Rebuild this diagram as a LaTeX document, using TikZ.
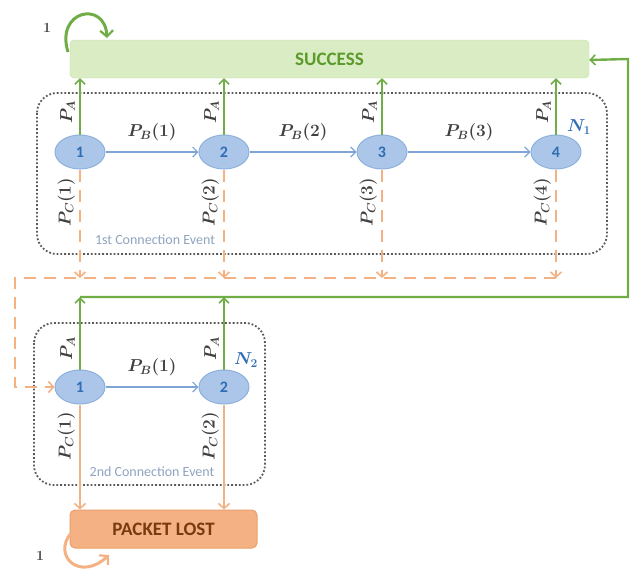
\documentclass[tikz,border=0pt]{standalone}
\usepackage{fontspec}
\setsansfont{Carlito}
\usetikzlibrary{shapes.geometric,arrows.meta}

\definecolor{okgreen}{HTML}{70AD47}
\definecolor{okfill}{HTML}{D9ECC3}
\definecolor{okedge}{HTML}{C6E0A8}
\definecolor{oktext}{HTML}{5C9A2C}
\definecolor{lostfill}{HTML}{F4B183}
\definecolor{lostedge}{HTML}{E9A069}
\definecolor{losttext}{HTML}{7A3A10}
\definecolor{orline}{HTML}{F4B183}
\definecolor{stfill}{HTML}{ABC6E8}
\definecolor{stedge}{HTML}{8DB0DC}
\definecolor{sttext}{HTML}{2F6DB4}
\definecolor{blline}{HTML}{7EA5D5}
\definecolor{dotgrey}{HTML}{5A5A5A}
\definecolor{labgrey}{HTML}{404040}
\definecolor{evtext}{HTML}{8FA3BF}

\begin{document}
\begin{tikzpicture}[x=1pt,y=-1pt,
  stnode/.style={ellipse, draw=stedge, fill=stfill, line width=1pt,
    minimum width=50pt, minimum height=34pt, inner sep=0pt,
    text=sttext, font=\fontsize{16}{18}\sffamily\bfseries},
  okbox/.style={rectangle, rounded corners=4pt, draw=okedge, fill=okfill,
    minimum width=519pt, minimum height=38pt,
    text=oktext, font=\fontsize{19}{22}\sffamily\bfseries},
  lostbox/.style={rectangle, rounded corners=5pt, draw=lostedge, fill=lostfill,
    line width=1pt, minimum width=187pt, minimum height=38pt,
    text=losttext, font=\fontsize{19}{22}\sffamily\bfseries},
  evbox/.style={draw=dotgrey, line width=1.8pt, dotted, rounded corners=20pt},
  evlabel/.style={text=evtext, font=\fontsize{14}{16}\sffamily},
  lab/.style={text=labgrey, font=\fontsize{17}{20}\selectfont\boldmath},
  nlab/.style={text=sttext, font=\fontsize{17}{20}\selectfont\boldmath},
  onelab/.style={text=labgrey, font=\fontsize{14}{16}\selectfont\bfseries},
  tip/.style={-{Straight Barb[length=5pt,width=10pt,line width=1.6pt]}},
  pagreen/.style={draw=okgreen, line width=2.4pt, tip},
  pbblue/.style={draw=blline, line width=1.2pt,
    -{Straight Barb[length=5pt,width=10pt,line width=1.2pt]}},
  pcdash/.style={draw=orline, line width=2pt, dash pattern=on 12pt off 8pt,
    -{Straight Barb[length=5pt,width=11pt,line width=1.6pt]}},
  pcsolid/.style={draw=orline, line width=2pt,
    -{Straight Barb[length=5pt,width=11pt,line width=1.6pt]}},
  rotlab/.style={lab, rotate=90, anchor=south, inner sep=4pt}
]
\useasboundingbox (0,0) rectangle (634,568);

% outcome boxes
\node[okbox] (succ) at (329.5,59) {SUCCESS};
\node[lostbox] (lost) at (163.5,529) {PACKET LOST};

% connection event frames
\draw[evbox] (37,93) rectangle (607,254);
\draw[evbox] (34,323) rectangle (265,485);
\node[evlabel] at (155,240) {1st Connection Event};
\node[evlabel] at (152,472) {2nd Connection Event};

% states of the first connection event
\node[stnode] (a1) at (80,152) {1};
\node[stnode] (a2) at (224,152) {2};
\node[stnode] (a3) at (382,152) {3};
\node[stnode] (a4) at (556,152) {4};
\node[nlab] at (579,127) {$N_1$};

% states of the second connection event
\node[stnode] (b1) at (80,387) {1};
\node[stnode] (b2) at (224,387) {2};
\node[nlab] at (246,360) {$N_2$};

% transitions to SUCCESS
\foreach \s in {a1,a2,a3,a4}
  \draw[pagreen] (\s.north) -- node[rotlab, pos=0.4] {$P_A$} (\s.north |- succ.south);

% transitions between states
\draw[pbblue] (a1) -- node[lab, above=7pt] {$P_B(1)$} (a2);
\draw[pbblue] (a2) -- node[lab, above=7pt] {$P_B(2)$} (a3);
\draw[pbblue] (a3) -- node[lab, above=7pt] {$P_B(3)$} (a4);
\draw[pbblue] (b1) -- node[lab, above=7pt] {$P_B(1)$} (b2);

% failures of the first event lead into the second event
\coordinate (dl) at (15,278);
\coordinate (gr) at (628,297);
\draw[pcdash] (a1.south) -- node[rotlab, pos=0.3] {$P_C(1)$} (a1.south |- dl);
\draw[pcdash] (a2.south) -- node[rotlab, pos=0.3] {$P_C(2)$} (a2.south |- dl);
\draw[pcdash] (a3.south) -- node[rotlab, pos=0.3] {$P_C(3)$} (a3.south |- dl);
\draw[pcdash] (a4.south) -- node[rotlab, pos=0.3] {$P_C(4)$} (a4.south |- dl);
\draw[pcdash] (a4.south |- dl) -- (dl) -- (dl |- b1) -- (b1.west);

% successes of the second event
\draw[pagreen] (b1.north) -- node[rotlab, pos=0.29] {$P_A$} (b1.north |- gr);
\draw[pagreen] (b2.north) -- node[rotlab, pos=0.29] {$P_A$} (b2.north |- gr);
\draw[pagreen] (b1.north |- gr) -- (gr) -- (gr |- succ.east) -- ([yshift=-1pt]succ.east);

% failures of the second event
\draw[pcsolid] (b1.south) -- node[rotlab, pos=0.3] {$P_C(1)$} (b1.south |- lost.north);
\draw[pcsolid] (b2.south) -- node[rotlab, pos=0.3] {$P_C(2)$} (b2.south |- lost.north);

% absorbing self loops
\coordinate (sl0) at (68,52);
\coordinate (sl1) at (107,38);
\draw[draw=okgreen, line width=3pt,
  -{Straight Barb[length=6pt,width=13pt,line width=2.2pt]}]
  (sl0) .. controls (55,10) and (105,0) .. (sl1);
\node[onelab] at (47,28) {1};

\coordinate (ll0) at (71,533);
\coordinate (ll1) at (109,555);
\draw[draw=orline, line width=3pt,
  -{Straight Barb[length=6pt,width=13pt,line width=2.2pt]}]
  (ll0) .. controls (52,556) and (80,582) .. (ll1);
\node[onelab] at (40,556) {1};
\end{tikzpicture}
\end{document}
